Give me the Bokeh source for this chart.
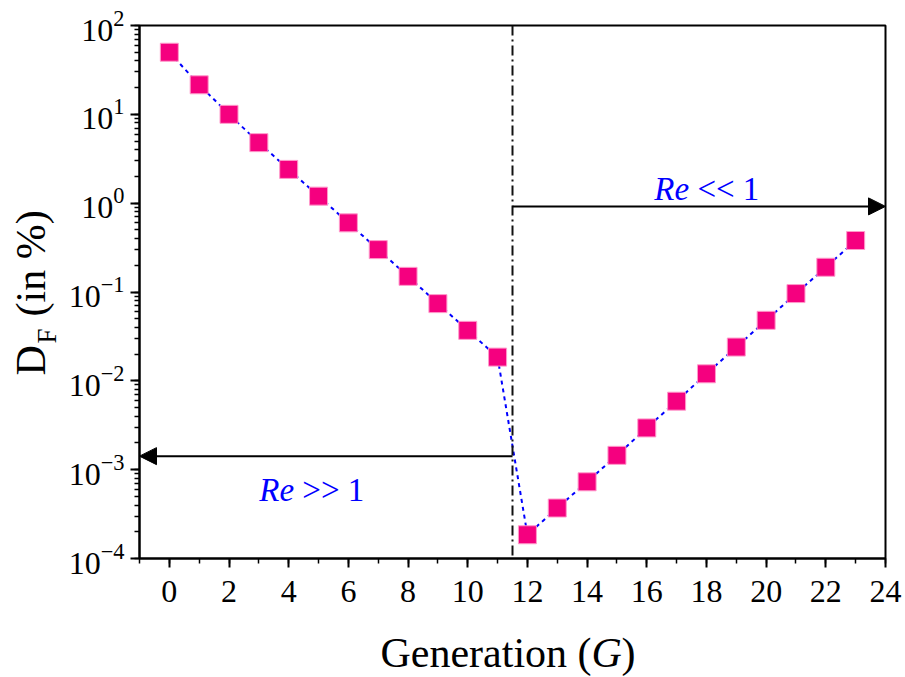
import math
from bokeh.plotting import figure
from bokeh.models import Range1d, FixedTicker, LogTicker, Span, Arrow, NormalHead, Label
from bokeh.core.properties import value
from bokeh.embed import file_html
from bokeh.resources import INLINE

# ---- data ----
generation = list(range(24))
df_percent = [50, 21.5, 10, 4.8, 2.4, 1.2, 0.6, 0.3, 0.15, 0.074, 0.037, 0.0185,
              1.85e-4, 3.7e-4, 7.3e-4, 1.45e-3, 2.95e-3, 5.9e-3, 1.2e-2, 2.4e-2,
              4.8e-2, 9.6e-2, 0.19, 0.38]
x_major_ticks = list(range(0, 25, 2))
x_minor_ticks = list(range(-1, 25))
boundary_G = 11.5
re_high_level = 1.42e-3
re_low_level = 0.92
x_min, x_max = -1, 24
y_min, y_max = 1e-4, 1e2

FONT = "Liberation Serif"
NBSP = "\u00a0"

p = figure(width=905, height=677, y_axis_type="log",
           x_range=Range1d(x_min, x_max), y_range=Range1d(y_min, y_max),
           output_backend="svg", toolbar_location=None,
           min_border_left=139, min_border_right=20,
           min_border_top=25, min_border_bottom=119)
p.grid.visible = False
p.outline_line_color = "black"
p.outline_line_width = 2
p.background_fill_color = "white"
p.border_fill_color = "white"

p.xaxis.ticker = FixedTicker(ticks=x_major_ticks, minor_ticks=x_minor_ticks)
p.yaxis.ticker = LogTicker(num_minor_ticks=10)
for ax in (p.xaxis, p.yaxis):
    ax.axis_line_width = 2
    ax.axis_line_color = "black"
    ax.major_tick_line_width = 2
    ax.minor_tick_line_width = 1.5
    ax.major_tick_in = 0
    ax.minor_tick_in = 0
    ax.major_tick_out = 9
    ax.minor_tick_out = 5
    ax.major_label_text_font = FONT
    ax.major_label_text_font_size = "32px"
    ax.major_label_text_color = "black"
p.xaxis.major_label_standoff = 13
p.yaxis.major_label_standoff = 6

# vertical boundary
p.add_layout(Span(location=boundary_G, dimension="height", line_color="#111111",
                  line_width=2, line_dash="10 4 2 4"))

# arrows
p.add_layout(Arrow(end=NormalHead(size=17, fill_color="black", line_color="black"),
                   x_start=boundary_G, y_start=re_low_level, x_end=x_max, y_end=re_low_level,
                   line_width=2, line_color="black"))
p.add_layout(Arrow(end=NormalHead(size=17, fill_color="black", line_color="black"),
                   x_start=boundary_G, y_start=re_high_level, x_end=x_min, y_end=re_high_level,
                   line_width=2, line_color="black"))

# data
p.line(generation, df_percent, line_color="blue", line_width=2, line_dash="4 4")
p.scatter(generation, df_percent, marker="square", size=18,
          fill_color="#F5007F", line_color="#FF9ACB", line_width=1)

# Re annotations
for xa, ya, rest in ((4.18, 5.98e-4, NBSP + ">>" + NBSP + "1"), (17.42, 1.46, NBSP + "<<" + NBSP + "1")):
    p.add_layout(Label(x=xa, y=ya, text="Re", text_font=FONT, text_font_style="italic",
                       text_font_size="33px", text_color="blue",
                       text_align="right", text_baseline="alphabetic"))
    p.add_layout(Label(x=xa, y=ya, text=rest, text_font=FONT,
                       text_font_size="33px", text_color="blue",
                       text_align="left", text_baseline="alphabetic"))


def axis_text(txt, dx, dy, size, style="normal", angle=0.0):
    # text anchored at the frame's bottom-left corner, offset in screen pixels
    p.text(x=[x_min], y=[y_min], text=[txt], x_offset=dx, y_offset=dy, angle=angle,
           text_font=value(FONT), text_font_size=size, text_font_style=style,
           text_color="black", text_align="left", text_baseline="alphabetic",
           level="overlay")


ang = math.pi / 2
# y axis label: D_F (in %)
axis_text("D", -109, -183, "42px", angle=ang)
axis_text("F", -93, -215, "27px", angle=ang)
axis_text("(in" + NBSP + "%)", -109, -242, "42px", angle=ang)

# x axis label: Generation (G)
axis_text("Generation" + NBSP + "(", 241, 94, "42px")
axis_text("G", 452, 94, "42px", style="italic")
axis_text(")", 482, 94, "42px")

open("out.html", "w").write(file_html(p, INLINE))
